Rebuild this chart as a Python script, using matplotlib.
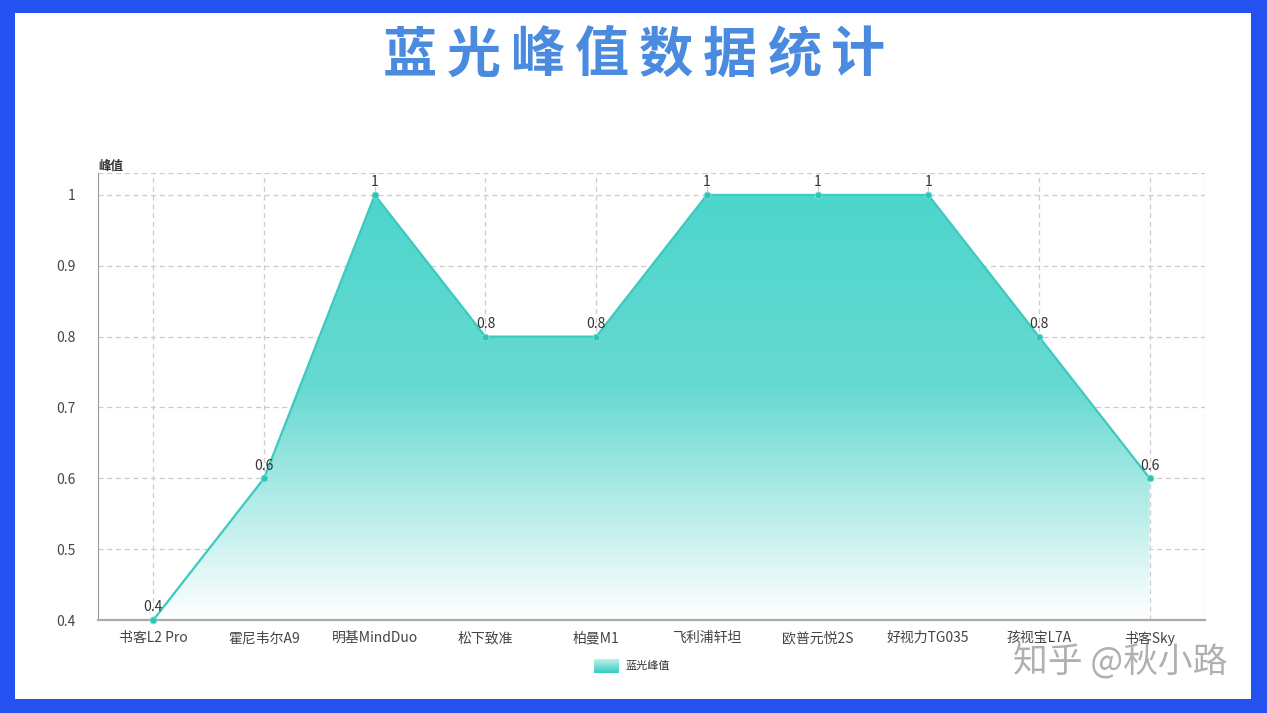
import matplotlib
matplotlib.use("Agg")
import matplotlib.pyplot as plt
import numpy as np
from matplotlib.patches import Rectangle, Polygon
from matplotlib.colors import LinearSegmentedColormap

plt.rcParams['font.family'] = ['Noto Sans CJK SC', 'DejaVu Sans']

categories = ['书客L2 Pro', '霍尼韦尔A9', '明基MindDuo', '松下致准', '柏曼M1',
              '飞利浦轩坦', '欧普元悦2S', '好视力TG035', '孩视宝L7A', '书客Sky']
values = [0.4, 0.6, 1, 0.8, 0.8, 1, 1, 1, 0.8, 0.6]
value_labels = ['0.4', '0.6', '1', '0.8', '0.8', '1', '1', '1', '0.8', '0.6']
yticks = [0.4, 0.5, 0.6, 0.7, 0.8, 0.9, 1.0]
ytick_labels = ['0.4', '0.5', '0.6', '0.7', '0.8', '0.9', '1']
title = '蓝光峰值数据统计'
series_name = '蓝光峰值'
y_name = '峰值'
watermark = '知乎 @秋小路'

W, H = 1267, 713
fig = plt.figure(figsize=(W / 100, H / 100), dpi=100)
fig.patch.set_facecolor('#2452F0')

# white inner panel
bg = fig.add_axes([0, 0, 1, 1], zorder=0)
bg.set_xlim(0, W); bg.set_ylim(H, 0); bg.axis('off')
bg.add_patch(Rectangle((15, 13), 1251 - 15, 699 - 13, facecolor='white', edgecolor='none'))

# title characters spaced out
for i, ch in enumerate(title):
    bg.text(378 + 32 + 64 * i, 56, ch, ha='center', va='center', fontsize=39,
            fontweight='heavy', color='#4A8BE0')

# plot area
left, right, top, bottom = 98, 1205, 173, 620
ax = fig.add_axes([left / W, 1 - bottom / H, (right - left) / W, (bottom - top) / H], zorder=1)
ax.set_facecolor('none')
x = np.arange(len(categories))
ymin, ymax = 0.4, 1.031
ax.set_xlim(-0.5, len(categories) - 0.5)
ax.set_ylim(ymin, ymax)

# gridlines
for yv in yticks[1:] + [ymax]:
    ax.axhline(yv, color='#cccccc', lw=0.9, ls=(0, (4, 3)), zorder=1)
for xv in list(x) + [len(categories) - 0.5]:
    ax.axvline(xv, color='#cccccc', lw=0.9, ls=(0, (4, 3)), zorder=1)

# gradient fill
cmap = LinearSegmentedColormap.from_list('g', [(0, (1, 1, 1, 1)), (0.55, (0.40, 0.85, 0.82, 1)),
                                              (1, (0.30, 0.84, 0.80, 1))])
grad = np.linspace(0, 1, 256).reshape(-1, 1)
im = ax.imshow(grad, extent=[-0.5, len(categories) - 0.5, ymin, 1.0], origin='lower',
               aspect='auto', cmap=cmap, zorder=2)
poly_pts = [(x[0], ymin)] + list(zip(x, values)) + [(x[-1], ymin)]
poly = Polygon(poly_pts, closed=True, facecolor='none', edgecolor='none', transform=ax.transData)
ax.add_patch(poly)
im.set_clip_path(poly)

ax.plot(x, values, color='#3CC9BF', lw=1.6, zorder=3)
ax.scatter(x, values, s=24, color='#2EC4B8', edgecolor='#7fe0d8', linewidth=0.6, zorder=4, clip_on=False)
for xi, v, lab in zip(x, values, value_labels):
    ax.annotate(lab, (xi, v), xytext=(0, 4), textcoords='offset points', ha='center',
                va='bottom', fontsize=10, color='#333333', zorder=5)

for s in ['top', 'right']:
    ax.spines[s].set_visible(False)
ax.spines['left'].set_color('#999999')
ax.spines['bottom'].set_color('#aaaaaa')
ax.spines['bottom'].set_linewidth(1.6)
ax.set_xticks(x)
ax.set_xticklabels(categories, fontsize=10, color='#444444')
ax.set_yticks(yticks)
ax.set_yticklabels(ytick_labels, fontsize=10, color='#444444')
ax.tick_params(length=0, pad=8)
ax.tick_params(axis='y', pad=16)

bg.text(98, 166, y_name, ha='left', va='center', fontsize=9, fontweight='bold', color='#333333')

# legend
lg = np.linspace(0, 1, 64).reshape(-1, 1)
leg_cmap = LinearSegmentedColormap.from_list('l', [(0.75, 0.94, 0.92), (0.20, 0.80, 0.76)])
bg.imshow(lg, extent=[594, 619, 673, 659], cmap=leg_cmap, aspect='auto', zorder=1)
bg.set_xlim(0, W); bg.set_ylim(H, 0)
bg.text(625, 666, series_name, ha='left', va='center', fontsize=8, color='#333333')

# watermark
bg.text(1120, 662, watermark, ha='center', va='center', fontsize=25, color='#b0b0b0', zorder=6)

fig.savefig('out.png', dpi=100, facecolor=fig.get_facecolor())
